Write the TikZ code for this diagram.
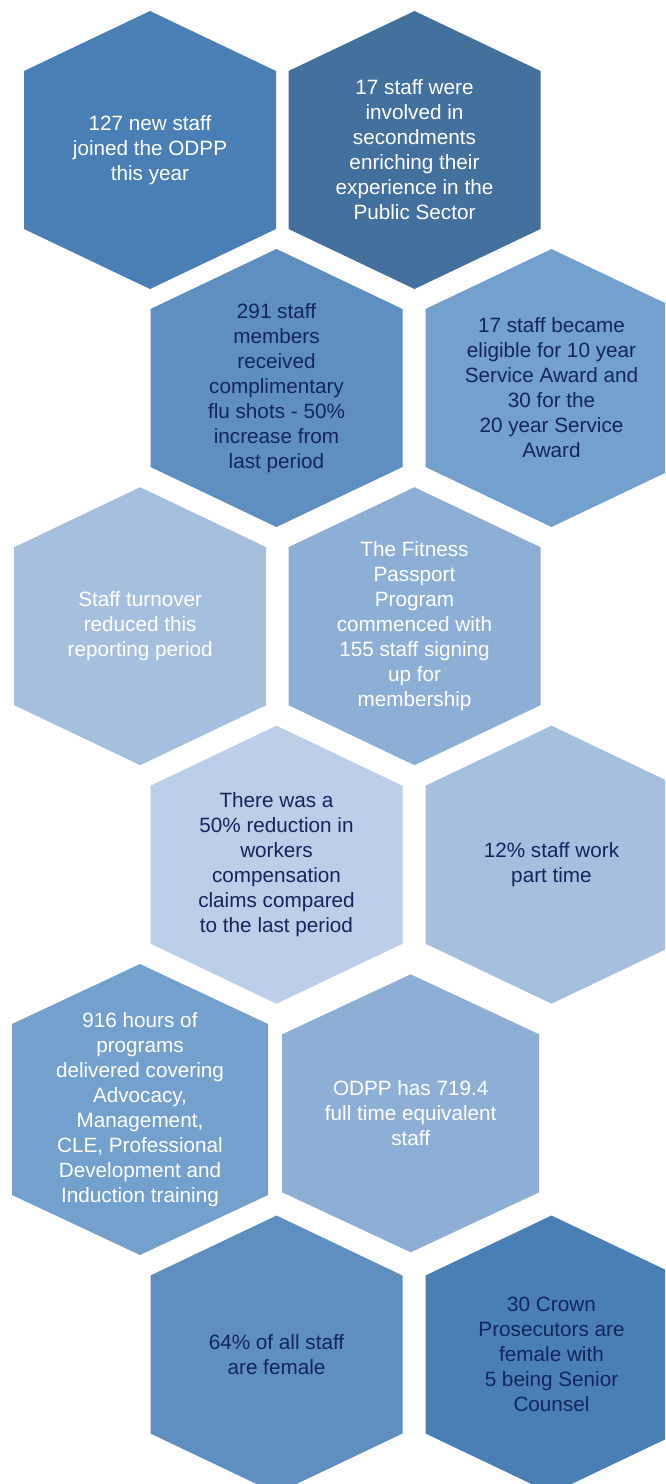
\documentclass[tikz,border=0pt]{standalone}
\usepackage{xcolor}
\usepackage{fontspec}
\setmainfont{Liberation Sans}
\usepackage{tikz}
\usetikzlibrary{positioning}
\definecolor{blueA}{HTML}{4A7FB5}
\definecolor{blueB}{HTML}{43709C}
\definecolor{blueC}{HTML}{5F8FC0}
\definecolor{blueD}{HTML}{74A0CD}
\definecolor{blueE}{HTML}{8DAFD6}
\definecolor{blueF}{HTML}{A6BFDF}
\definecolor{blueG}{HTML}{BBCFE8}
\definecolor{navy}{HTML}{14245E}
\tikzset{font=\fontsize{20.7}{25}\selectfont}
\tikzset{hexcell/.style={minimum width=252pt, minimum height=278pt, inner sep=0pt,
  align=center, text=white,
  path picture={\fill[#1] (path picture bounding box.north)
    -- ([yshift=-60pt]path picture bounding box.north east)
    -- ([yshift=60pt]path picture bounding box.south east)
    -- (path picture bounding box.south)
    -- ([yshift=60pt]path picture bounding box.south west)
    -- ([yshift=-60pt]path picture bounding box.north west) -- cycle;}}}
\tikzset{dark/.style={text=navy}}

\begin{document}
\begin{tikzpicture}[x=1pt, y=1pt]
  \useasboundingbox (0,0) rectangle (665,-1484);
  \clip (0,0) rectangle (665,-1484);
  % Row 1
  \node[hexcell=blueA] (joined) at (150,-150) {127 new staff\\joined the ODPP\\this year};
  \node[hexcell=blueB] (second) at (414.5,-150) {17 staff were\\involved in\\secondments\\enriching their\\experience in the\\Public Sector};
  % Row 2
  \node[hexcell=blueC, dark] (flu) at (276.5,-388) {291 staff\\members\\received\\complimentary\\flu shots - 50\%\\increase from\\last period};
  \node[hexcell=blueD, dark] (award) at (551.5,-388) {17 staff became\\eligible for 10 year\\Service Award and\\30 for the\\20 year Service\\Award};
  % Row 3
  \node[hexcell=blueF] (turnover) at (140.2,-626.2) {Staff turnover\\reduced this\\reporting period};
  \node[hexcell=blueE] (fitness) at (414.5,-626.2) {The Fitness\\Passport\\Program\\commenced with\\155 staff signing\\up for\\membership};
  % Row 4
  \node[hexcell=blueG, dark] (claims) at (276.5,-864.7) {There was a\\50\% reduction in\\workers\\compensation\\claims compared\\to the last period};
  \node[hexcell=blueF, dark] (parttime) at (551.5,-864.7) {12\% staff work\\part time};
  % Row 5
  \node[hexcell=blueD, minimum width=256pt, minimum height=291pt] (hours) at (140,-1109.5) {916 hours of\\programs\\delivered covering\\Advocacy,\\Management,\\CLE, Professional\\Development and\\Induction training};
  \node[hexcell=blueE, minimum width=257pt] (fte) at (410.7,-1113.3) {ODPP has 719.4\\full time equivalent\\staff};
  % Row 6
  \node[hexcell=blueC, dark] (female) at (276.5,-1354.5) {64\% of all staff\\are female};
  \node[hexcell=blueA, dark] (crown) at (551.5,-1354.5) {30 Crown\\Prosecutors are\\female with\\5 being Senior\\Counsel};
\end{tikzpicture}
\end{document}
